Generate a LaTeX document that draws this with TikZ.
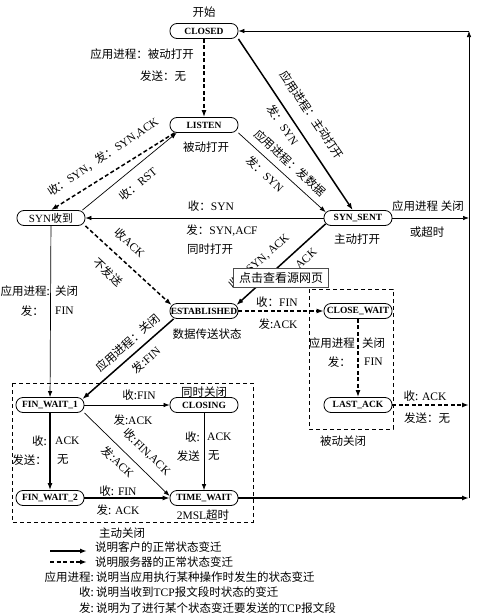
\documentclass[tikz,border=0pt]{standalone}
\usepackage{fontspec}
\setmainfont{Liberation Serif}
\newfontfamily\cjk{Noto Sans CJK SC}
\usetikzlibrary{arrows.meta}
\newcommand\zh[1]{{\cjk #1}}
\tikzset{
  stat/.style={draw,line width=0.8pt,rounded corners=7pt,minimum width=68pt,minimum height=15pt,inner sep=0pt,font=\bfseries\fontsize{9.5}{10}\selectfont},
  lbl/.style={inner sep=0pt,font=\fontsize{11.5}{13}\selectfont},
  thn/.style={-{Latex[length=6pt,width=4.5pt]},line width=0.7pt},
  thk/.style={-{Latex[length=7pt,width=5pt]},line width=1.5pt},
  dsh/.style={-{Latex[length=7pt,width=5pt]},line width=1.5pt,dash pattern=on 4pt off 2.5pt},
  frm/.style={line width=0.7pt,dash pattern=on 4pt off 3pt}
}

\begin{document}
\begin{tikzpicture}[x=1pt,y=-1pt]
\useasboundingbox (0,0) rectangle (477,616);
\draw[frm] (12,383) rectangle (253,522);
\draw[frm] (309,289) rectangle (393,429);
% states
\node[stat] (closed) at (204,31) {CLOSED};
\node[stat] (listen) at (204,125) {LISTEN};
\node[stat,font=\fontsize{11}{12}\selectfont] (synrcvd) at (51,218) {SYN\zh{收到}};
\node[stat] (synsent) at (358,218) {SYN\_SENT};
\node[stat] (estab) at (204,311) {ESTABLISHED};
\node[stat] (closewait) at (358,311) {CLOSE\_WAIT};
\node[stat] (lastack) at (358,405) {LAST\_ACK};
\node[stat] (finw1) at (50,405) {FIN\_WAIT\_1};
\node[stat] (closing) at (204,405) {CLOSING};
\node[stat] (finw2) at (50,498) {FIN\_WAIT\_2};
\node[stat] (timewait) at (204,498) {TIME\_WAIT};
\coordinate (c1) at (469,31);
\coordinate (c2) at (469,218);
\coordinate (c3) at (469,405);
\coordinate (c4) at (469,498);
% transitions
\draw[dsh] (closed) -- (listen);
\draw[thk] (closed.south east) -- (synsent);
\draw[thn] (listen.south east) -- ([xshift=2pt,yshift=-2pt]synsent.north west);
\draw[thn] ([xshift=-3pt]synrcvd.north east) -- ([xshift=7pt]listen.south west);
\draw[dsh] (listen.195) -- (synrcvd.north);
\draw[thn] (synsent) -- (synrcvd);
\draw[dsh] (synrcvd.south east) -- ([xshift=2pt,yshift=-2pt]estab.north west);
\draw[thk] ([xshift=2pt,yshift=2pt]synsent.south west) -- ([xshift=-2pt,yshift=-2pt]estab.north east);
\draw[dsh] (estab) -- (closewait);
\draw[dsh] (closewait) -- (lastack);
\draw[thn] (synrcvd) -- (finw1);
\draw[thk] ([xshift=4pt]estab.south west) -- ([xshift=-2pt,yshift=-2pt]finw1.north east);
\draw[thn] (finw1) -- (closing);
\draw[thk] (finw1) -- (finw2);
\draw[thn] (finw1.south east) -- ([yshift=2pt]timewait.west);
\draw[thn] (closing) -- (timewait);
\draw[thk] (finw2) -- (timewait);
\draw[thn] (synsent) -- (c2);
\draw[dsh] (lastack) -- (c3);
\draw[thk] (timewait) -- (c4);
\draw[thn] (c4) -- (c1);
\draw[thn] (c1) -- (closed);
% labels
\node[lbl] (tstart) at (204,12) {\zh{开始}};
\node[lbl] (t1a) at (142,54) {\zh{应用进程：被动打开}};
\node[lbl] (t1b) at (163,76) {\zh{发送：无}};
\node[lbl,rotate=-56] (t2a) at (312,115) {\zh{应用进程：主动打开}};
\node[lbl,rotate=-56] (t2b) at (283,125) {\zh{发：}SYN};
\node[lbl,rotate=-42.5] (t3a) at (290,163) {\zh{应用进程：发数据}};
\node[lbl,rotate=-42.5] (t3b) at (265,174) {\zh{发：}SYN};
\node[lbl,rotate=34] (t4) at (103,157) {\zh{收：}SYN\zh{，发：}SYN,ACK};
\node[lbl,rotate=39.5] (t5) at (138,184) {\zh{收：}RST};
\node[lbl] (tlis) at (206,147) {\zh{被动打开}};
\node[lbl] (t6a) at (211,206) {\zh{收：}SYN};
\node[lbl] (t6b) at (222,231) {\zh{发：}SYN,ACF};
\node[lbl] (t6c) at (210,249) {\zh{同时打开}};
\node[lbl] (t7a) at (428,206) {\zh{应用进程 关闭}};
\node[lbl] (t7b) at (427,232) {\zh{或超时}};
\node[lbl] (tsyn) at (357,239) {\zh{主动打开}};
\node[lbl,rotate=-43] (t8a) at (130,243) {\zh{收}ACK};
\node[lbl,rotate=-43] (t8b) at (108,272) {\zh{不发送}};
\node[lbl,rotate=42] (t9a) at (259,261) {\zh{收：}SYN, ACK};
\node[lbl,rotate=42] (t9b) at (297,266) {\zh{发：}ACK};
\node[lbl] (t10a) at (277,302) {\zh{收：}FIN};
\node[lbl] (t10b) at (278,324) {\zh{发:}ACK};
\node[lbl] (test) at (207,334) {\zh{数据传送状态}};
\node[lbl,anchor=east] (t11a) at (355,343) {\zh{应用进程}};
\node[lbl,anchor=west] (t11b) at (362,343) {\zh{关闭}};
\node[lbl,anchor=east] (t11c) at (351,362) {\zh{发：}};
\node[lbl,anchor=west] (t11d) at (364,362) {FIN};
\node[lbl,anchor=east] (t12a) at (50,291) {\zh{应用进程:}};
\node[lbl,anchor=west] (t12b) at (55,291) {\zh{关闭}};
\node[lbl,anchor=east] (t12c) at (44,311) {\zh{发：}};
\node[lbl,anchor=west] (t12d) at (55,311) {FIN};
\node[lbl,rotate=41.5] (t13a) at (128,343) {\zh{应用进程：关闭}};
\node[lbl,rotate=41.5] (t13b) at (146,360) {\zh{发:}FIN};
\node[lbl] (t14a) at (139,395) {\zh{收:}FIN};
\node[lbl] (t14b) at (133,420) {\zh{发:}ACK};
\node[lbl] (tclg) at (204,392) {\zh{同时关闭}};
\node[lbl,anchor=east] (t15a) at (47,441) {\zh{收:}};
\node[lbl,anchor=west] (t15b) at (55,441) {ACK};
\node[lbl,anchor=east] (t15c) at (47,460) {\zh{发送：}};
\node[lbl,anchor=west] (t15d) at (57,460) {\zh{无}};
\node[lbl,rotate=-44] (t16a) at (147,452) {\zh{收:}FIN,ACK};
\node[lbl,rotate=-44] (t16b) at (118,462) {\zh{发:}ACK};
\node[lbl,anchor=east] (t17a) at (200,437) {\zh{收:}};
\node[lbl,anchor=west] (t17b) at (207,437) {ACK};
\node[lbl,anchor=east] (t17c) at (200,456) {\zh{发送}};
\node[lbl,anchor=west] (t17d) at (208,456) {\zh{无}};
\node[lbl] (t18a) at (118,491) {\zh{收:} FIN};
\node[lbl] (t18b) at (118,510) {\zh{发:} ACK};
\node[lbl] (ttw) at (203,515) {2MSL\zh{超时}};
\node[lbl] (t19a) at (425,396) {\zh{收:} ACK};
\node[lbl] (t19b) at (427,418) {\zh{发送：无}};
\node[lbl] (tpas) at (343,441) {\zh{被动关闭}};
\node[lbl] (tact) at (122,533) {\zh{主动关闭}};
\node[draw=black!70,fill=white,line width=0.6pt,minimum width=95pt,minimum height=19pt,inner sep=0pt,font=\cjk\fontsize{12}{13}\selectfont] (popup) at (281,278) {点击查看源网页};
% legend
\coordinate (g1) at (50,551);
\coordinate (g2) at (87,551);
\coordinate (g3) at (50,562);
\coordinate (g4) at (87,562);
\draw[thk] (g1) -- (g2);
\draw[dsh] (g3) -- (g4);
\node[lbl,anchor=west] (k1) at (95,547) {\zh{说明客户的正常状态变迁}};
\node[lbl,anchor=west] (k2) at (95,562) {\zh{说明服务器的正常状态变迁}};
\node[lbl,anchor=east] (k3) at (94,577) {\zh{应用进程:}};
\node[lbl,anchor=west] (k4) at (96,577) {\zh{说明当应用执行某种操作时发生的状态变迁}};
\node[lbl,anchor=east] (k5) at (94,592) {\zh{收:}};
\node[lbl,anchor=west] (k6) at (96,592) {\zh{说明当收到}TCP\zh{报文段时状态的变迁}};
\node[lbl,anchor=east] (k7) at (94,608) {\zh{发:}};
\node[lbl,anchor=west] (k8) at (96,608) {\zh{说明为了进行某个状态变迁要发送的}TCP\zh{报文段}};
\end{tikzpicture}
\end{document}
